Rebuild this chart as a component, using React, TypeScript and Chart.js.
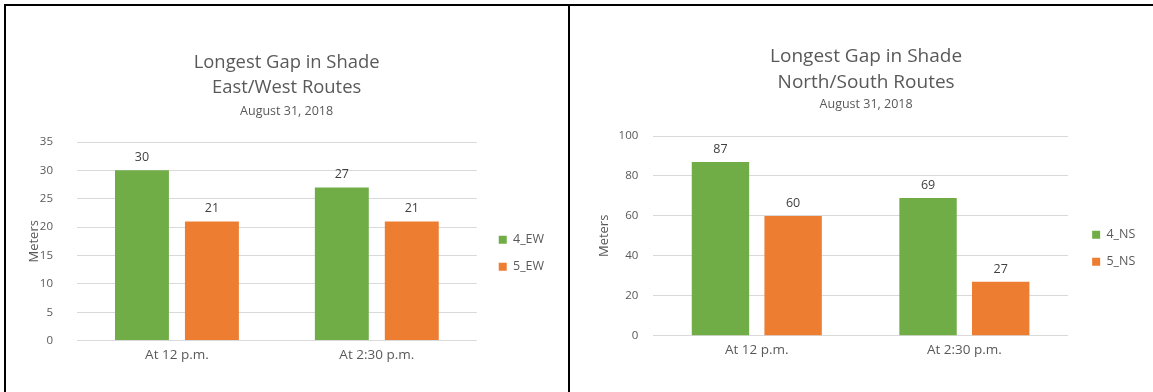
import { useEffect, useRef } from 'react';
import { Chart, registerables } from 'chart.js';

Chart.register(...registerables);

// ---- data ----
const categories = ['At 12 p.m.', 'At 2:30 p.m.'];

const ewNames = ['4_EW', '5_EW'];
const ewRoute4 = [30, 27];
const ewRoute5 = [21, 21];
const ewTickMax = 35;
const ewTickStep = 5;

const nsNames = ['4_NS', '5_NS'];
const nsRoute4 = [87, 69];
const nsRoute5 = [60, 27];
const nsTickMax = 100;
const nsTickStep = 20;

const ewTitle = ['Longest Gap in Shade', 'East/West Routes'];
const nsTitle = ['Longest Gap in Shade', 'North/South Routes'];
const dateLine = 'August 31, 2018';
const axisTitle = 'Meters';

// ---- styling ----
const GREEN = '#70AD47';
const ORANGE = '#ED7D31';
const TEXT = '#595959';
const LABEL = '#404040';
const GRID = '#D9D9D9';
const FONT = "'Open Sans', sans-serif";

type PanelSpec = {
  width: number;
  height: number;
  names: string[];
  first: number[];
  second: number[];
  max: number;
  step: number;
  title: string[];
  titleSize: number;
  pad: { left: number; right: number; top: number; bottom: number };
  titlePadTop: number;
  subPadTop: number;
  subPadBottom: number;
  yAxisWidth: number;
  yTickPadding: number;
  xTickPadding: number;
  catPct: number;
  barPct: number;
  legendShift: { x: number; y: number };
};

// Writes each bar's value just above it.
const valueLabels = {
  id: 'valueLabels',
  afterDatasetsDraw(chart: any) {
    const { ctx } = chart;
    ctx.save();
    ctx.font = `12.5px ${FONT}`;
    ctx.fillStyle = LABEL;
    ctx.textAlign = 'center';
    ctx.textBaseline = 'middle';
    chart.data.datasets.forEach((ds: any, di: number) => {
      const meta = chart.getDatasetMeta(di);
      meta.data.forEach((bar: any, i: number) => {
        ctx.fillText(String(ds.data[i]), bar.x, bar.y - 12.6);
      });
    });
    ctx.restore();
  },
};

// Nudges the legend block away from the plot area.
const legendOffset = (shift: { x: number; y: number }) => ({
  id: 'legendOffset',
  afterLayout(chart: any) {
    const lg = chart.legend;
    if (!lg) return;
    lg.left += shift.x;
    lg.right += shift.x;
    lg.top += shift.y;
    lg.bottom += shift.y;
  },
});

function buildConfig(s: PanelSpec): any {
  return {
    type: 'bar',
    data: {
      labels: categories,
      datasets: [
        {
          label: s.names[0],
          data: s.first,
          backgroundColor: GREEN,
          categoryPercentage: s.catPct,
          barPercentage: s.barPct,
        },
        {
          label: s.names[1],
          data: s.second,
          backgroundColor: ORANGE,
          categoryPercentage: s.catPct,
          barPercentage: s.barPct,
        },
      ],
    },
    options: {
      responsive: false,
      animation: false,
      devicePixelRatio: 1,
      layout: { padding: s.pad },
      plugins: {
        title: {
          display: true,
          text: s.title,
          color: TEXT,
          font: { family: FONT, size: s.titleSize, weight: 'normal', lineHeight: 25.5 / s.titleSize },
          padding: { top: s.titlePadTop, bottom: 0 },
        },
        subtitle: {
          display: true,
          text: dateLine,
          color: TEXT,
          font: { family: FONT, size: 12.5, weight: 'normal', lineHeight: 1.2 },
          padding: { top: s.subPadTop, bottom: s.subPadBottom },
        },
        legend: {
          position: 'right',
          fullSize: false,
          labels: {
            boxWidth: 8,
            boxHeight: 8,
            padding: 14.5,
            color: TEXT,
            font: { family: FONT, size: 12.5 },
          },
        },
        tooltip: { enabled: false },
      },
      scales: {
        x: {
          grid: { display: false, drawTicks: false },
          border: { display: false },
          ticks: {
            color: TEXT,
            font: { family: FONT, size: 13.5 },
            padding: s.xTickPadding,
          },
        },
        y: {
          min: 0,
          max: s.max,
          ticks: {
            stepSize: s.step,
            color: TEXT,
            font: { family: FONT, size: 11.5 },
            padding: s.yTickPadding,
          },
          grid: { color: GRID, lineWidth: 1, drawTicks: false },
          border: { display: false },
          title: {
            display: true,
            text: axisTitle,
            color: TEXT,
            font: { family: FONT, size: 13 },
            padding: 0,
          },
          afterFit(scale: any) {
            scale.width = s.yAxisWidth;
          },
        },
      },
    },
    plugins: [valueLabels, legendOffset(s.legendShift)],
  };
}

const eastWest: PanelSpec = {
  width: 562,
  height: 386,
  names: ewNames,
  first: ewRoute4,
  second: ewRoute5,
  max: ewTickMax,
  step: ewTickStep,
  title: ewTitle,
  titleSize: 18.4,
  pad: { left: 20.6, right: 21.4, top: 0, bottom: 22.4 },
  titlePadTop: 43.6,
  subPadTop: 3.3,
  subPadBottom: 23.1,
  yAxisWidth: 50.4,
  yTickPadding: 24,
  xTickPadding: 6.4,
  catPct: 0.7,
  barPct: 0.771,
  legendShift: { x: 7.5, y: 12 },
};

const northSouth: PanelSpec = {
  width: 583,
  height: 386,
  names: nsNames,
  first: nsRoute4,
  second: nsRoute5,
  max: nsTickMax,
  step: nsTickStep,
  title: nsTitle,
  titleSize: 19,
  pad: { left: 26.4, right: 17.2, top: 0, bottom: 26.7 },
  titlePadTop: 38.1,
  subPadTop: 2.3,
  subPadBottom: 23.6,
  yAxisWidth: 56.6,
  yTickPadding: 14.7,
  xTickPadding: 6.7,
  catPct: 0.7,
  barPct: 0.79,
  legendShift: { x: 9.5, y: 12.4 },
};

function RoutePanel({ spec, left }: { spec: PanelSpec; left: number }) {
  const ref = useRef<HTMLCanvasElement | null>(null);
  useEffect(() => {
    if (!ref.current) return;
    const chart = new Chart(ref.current, buildConfig(spec));
    return () => chart.destroy();
  }, [spec]);
  return (
    <canvas
      ref={ref}
      width={spec.width}
      height={spec.height}
      style={{ position: 'absolute', left, top: 6, width: spec.width, height: spec.height }}
    />
  );
}

export default function App() {
  const line = { position: 'absolute' as const, background: '#000' };
  return (
    <div
      style={{
        position: 'fixed',
        left: 0,
        top: 0,
        width: 1153,
        height: 392,
        background: '#fff',
        overflow: 'hidden',
      }}
    >
      <RoutePanel spec={eastWest} left={6} />
      <RoutePanel spec={northSouth} left={570} />
      <div style={{ ...line, left: 4, top: 4, width: 1149, height: 2 }} />
      <div style={{ ...line, left: 4, top: 4, width: 2, height: 388 }} />
      <div style={{ ...line, left: 568, top: 4, width: 2, height: 388 }} />
    </div>
  );
}
